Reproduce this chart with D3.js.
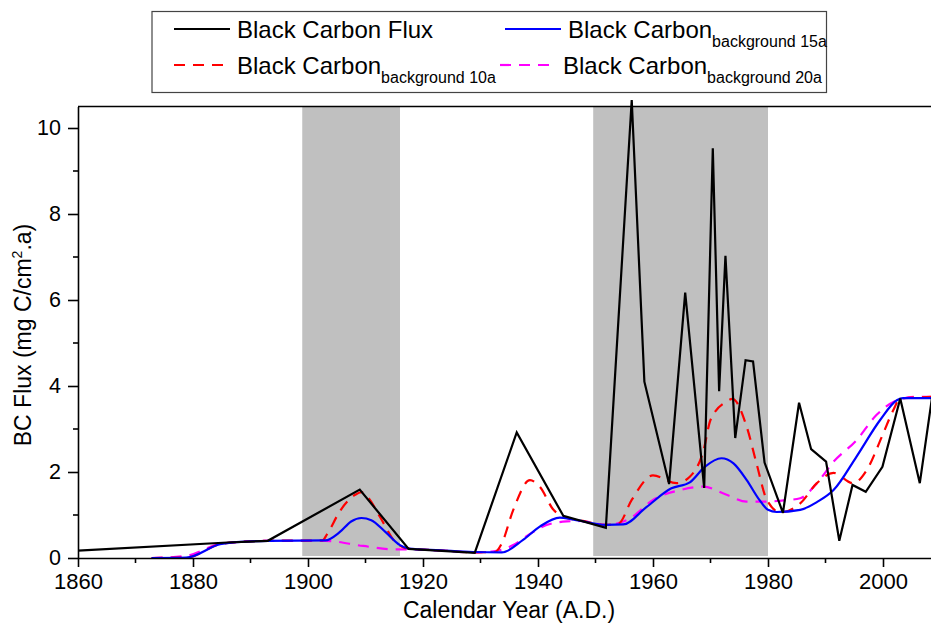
<!DOCTYPE html>
<html><head><meta charset="utf-8">
<script src="https://cdn.jsdelivr.net/npm/d3@7"></script>
<style>
html,body{margin:0;padding:0;background:#fff;overflow:hidden}
svg{display:block;font-family:"Liberation Sans",Arial,sans-serif}
</style></head>
<body>
<svg id="chart" width="931" height="629"></svg>
<script>
// ---- data ----
const xTicks = [1860, 1880, 1900, 1920, 1940, 1960, 1980, 2000];
const yTicks = [0, 2, 4, 6, 8, 10];
const shadedPeriods = [[1899, 1916], [1949.6, 1980]];

const fluxYears  = [1860, 1886, 1893, 1909, 1917.5, 1929, 1936.3, 1944.4, 1951.8, 1956.3, 1958.5, 1962.8, 1965.6, 1968.9, 1970.4, 1971.5, 1972.6, 1974.3, 1976.1, 1977.4, 1979.4, 1982.6, 1985.4, 1987.5, 1990.1, 1992.4, 1994.7, 1997.0, 1999.9, 2003.0, 2006.4, 2008.6];
const fluxValues = [0.17, 0.36, 0.40, 1.59, 0.21, 0.12, 2.92, 0.98, 0.70, 10.65, 4.10, 1.72, 6.17, 1.63, 9.53, 3.88, 7.03, 2.79, 4.60, 4.57, 2.22, 1.05, 3.61, 2.53, 2.24, 0.40, 1.70, 1.54, 2.12, 3.71, 1.74, 3.80];

const bg10Years  = [1872.8, 1878.8, 1884.7, 1887.5, 1893, 1902.5, 1903.3, 1905.6, 1908.2, 1909.3, 1910.5, 1912.5, 1915.4, 1917.5, 1923, 1929, 1932.5, 1933.7, 1935.7, 1938.6, 1940.3, 1942.7, 1944.4, 1947.5, 1951.8, 1954, 1956.3, 1960, 1964.1, 1966.4, 1968.8, 1970, 1972.8, 1973.8, 1976.3, 1978, 1979.8, 1982.2, 1985.6, 1988.5, 1991.4, 1994.8, 1997.2, 1999.8, 2001.8, 2003, 2010];
const bg10Values = [0, 0.01, 0.32, 0.37, 0.40, 0.41, 0.55, 1.10, 1.47, 1.53, 1.40, 0.96, 0.34, 0.22, 0.18, 0.13, 0.14, 0.34, 1.12, 1.81, 1.66, 1.12, 0.96, 0.87, 0.77, 0.80, 1.35, 1.92, 1.74, 1.89, 2.51, 3.21, 3.64, 3.70, 3.05, 2.20, 1.35, 1.06, 1.27, 1.74, 1.98, 1.74, 2.05, 2.82, 3.44, 3.71, 3.75];

const bg15Years  = [1872.8, 1878.8, 1884.7, 1887.5, 1893, 1903, 1905.5, 1907.5, 1909.3, 1911, 1913.5, 1916, 1917.5, 1923, 1928.7, 1933.7, 1937.4, 1940.3, 1943.8, 1946, 1951.8, 1954.8, 1958.9, 1963.2, 1966.4, 1969, 1971.9, 1974, 1976.3, 1978.5, 1980, 1981.5, 1985.6, 1988.5, 1991.4, 1995.4, 1999.5, 2002.4, 2003.5, 2010];
const bg15Values = [0, 0.01, 0.32, 0.37, 0.40, 0.41, 0.60, 0.85, 0.93, 0.88, 0.60, 0.30, 0.22, 0.18, 0.14, 0.13, 0.42, 0.73, 0.94, 0.90, 0.77, 0.78, 1.19, 1.62, 1.76, 2.12, 2.32, 2.20, 1.81, 1.35, 1.12, 1.07, 1.12, 1.30, 1.58, 2.36, 3.21, 3.67, 3.72, 3.72];

const bg20Years  = [1872.8, 1878.8, 1884.7, 1887.5, 1893, 1903, 1909.6, 1915, 1917.5, 1923, 1929, 1932, 1935.7, 1938.6, 1941.5, 1945, 1947.3, 1951.8, 1956, 1960, 1964.7, 1968.8, 1972.8, 1976.3, 1979.8, 1982, 1985.6, 1988.5, 1991.4, 1995.4, 1998.9, 2001.8, 2005.7, 2010];
const bg20Values = [0, 0.05, 0.33, 0.37, 0.40, 0.40, 0.28, 0.20, 0.20, 0.17, 0.13, 0.15, 0.30, 0.56, 0.77, 0.85, 0.86, 0.77, 0.92, 1.35, 1.58, 1.66, 1.47, 1.31, 1.31, 1.33, 1.39, 1.74, 2.24, 2.74, 3.33, 3.63, 3.75, 3.75];

const seriesNames = ["Black Carbon Flux", "Black Carbon", "Black Carbon", "Black Carbon"];
const seriesSubs  = ["", "background 15a", "background 10a", "background 20a"];

// ---- layout ----
const svg = d3.select("#chart");
const pL = 78, pR = 940.5, pT = 106.5, pB = 558;
const x = d3.scaleLinear().domain([1860, 2010]).range([pL, pR]);
const y = d3.scaleLinear().domain([0, 10.5]).range([pB, pT]);
const FONT = "Liberation Sans, Arial, sans-serif";

// shaded bands
svg.append("g").selectAll("rect").data(shadedPeriods).join("rect")
  .attr("x", d => x(d[0])).attr("width", d => x(d[1]) - x(d[0]))
  .attr("y", y(10.5)).attr("height", y(0) - y(10.5) - 2)
  .attr("fill", "#c0c0c0");

svg.append("defs").append("clipPath").attr("id", "clip")
  .append("rect").attr("x", pL).attr("y", 0).attr("width", pR - pL).attr("height", pB);

const mk = (xs, vs) => xs.map((d, i) => [d, vs[i]]);
const series = [
  {data: mk(bg20Years, bg20Values), color: "#ff00ff", dash: "11,8", curve: d3.curveMonotoneX},
  {data: mk(bg10Years, bg10Values), color: "#ff0000", dash: "11,8", curve: d3.curveMonotoneX},
  {data: mk(bg15Years, bg15Values), color: "#0000ff", dash: null, curve: d3.curveMonotoneX},
  {data: mk(fluxYears, fluxValues), color: "#000000", dash: null, curve: d3.curveLinear}
];
const gl = svg.append("g").attr("clip-path", "url(#clip)");
series.forEach(s => {
  gl.append("path")
    .attr("d", d3.line().x(d => x(d[0])).y(d => y(d[1])).curve(s.curve)(s.data))
    .attr("fill", "none").attr("stroke", s.color).attr("stroke-width", 2.2)
    .attr("stroke-dasharray", s.dash).attr("stroke-linejoin", "miter");
});

// top frame
svg.append("line").attr("x1", pL).attr("x2", pR).attr("y1", pT).attr("y2", pT)
  .attr("stroke", "#000").attr("stroke-width", 1.6);

// axes
const xMinor = d3.range(1870, 2011, 20);
const gx = svg.append("g").attr("transform", `translate(0,${pB})`);
gx.call(d3.axisBottom(x).tickValues(xTicks).tickFormat(d3.format("d")).tickSize(9).tickPadding(6).tickSizeOuter(0));
gx.append("g").selectAll("line").data(xMinor).join("line")
  .attr("x1", d => x(d)).attr("x2", d => x(d)).attr("y1", 0).attr("y2", 5).attr("stroke", "#000").attr("stroke-width", 1.6);
gx.select(".domain").attr("stroke-width", 1.6);
gx.selectAll(".tick line").attr("stroke-width", 1.6);
gx.selectAll(".tick text").attr("font-size", 22).attr("fill", "#000").attr("font-family", FONT);

const yMinor = [1, 3, 5, 7, 9];
const gy = svg.append("g").attr("transform", `translate(${pL},0)`);
gy.call(d3.axisLeft(y).tickValues(yTicks).tickFormat(d3.format("d")).tickSize(10).tickPadding(7).tickSizeOuter(0));
gy.append("g").selectAll("line").data(yMinor).join("line")
  .attr("y1", d => y(d)).attr("y2", d => y(d)).attr("x1", 0).attr("x2", -5).attr("stroke", "#000").attr("stroke-width", 1.6);
gy.select(".domain").attr("stroke-width", 1.6);
gy.selectAll(".tick line").attr("stroke-width", 1.6);
gy.selectAll(".tick text").attr("font-size", 21.5).attr("fill", "#000").attr("font-family", FONT);

// axis titles
svg.append("text").attr("x", 509).attr("y", 618).attr("text-anchor", "middle")
  .attr("font-size", 23).text("Calendar Year (A.D.)");
const yt = svg.append("text").attr("transform", "translate(31,335) rotate(-90)")
  .attr("text-anchor", "middle").attr("font-size", 23);
yt.append("tspan").text("BC Flux (mg C/cm");
yt.append("tspan").attr("dy", -9).attr("font-size", 14).text("2");
yt.append("tspan").attr("dy", 9).text(".a)");

// legend
const lg = svg.append("g");
lg.append("rect").attr("x", 152).attr("y", 11.5).attr("width", 674.5).attr("height", 81)
  .attr("fill", "#fff").attr("stroke", "#444").attr("stroke-width", 1.2);
const legItems = [
  {i: 0, lx: 174, ly: 29, color: "#000", dash: null},
  {i: 1, lx: 505, ly: 29, color: "#0000ff", dash: null},
  {i: 2, lx: 174, ly: 65, color: "#ff0000", dash: "11,8"},
  {i: 3, lx: 500, ly: 65, color: "#ff00ff", dash: "11,8"}
];
legItems.forEach(it => {
  lg.append("line").attr("x1", it.lx).attr("x2", it.lx + 56).attr("y1", it.ly).attr("y2", it.ly)
    .attr("stroke", it.color).attr("stroke-width", 2.2).attr("stroke-dasharray", it.dash);
  const t = lg.append("text").attr("x", it.lx + 63).attr("y", it.ly + 8.5).attr("font-size", 24);
  t.append("tspan").text(seriesNames[it.i]);
  if (seriesSubs[it.i]) t.append("tspan").attr("dy", 9).attr("font-size", 16).text(seriesSubs[it.i]);
});
</script>
</body></html>
